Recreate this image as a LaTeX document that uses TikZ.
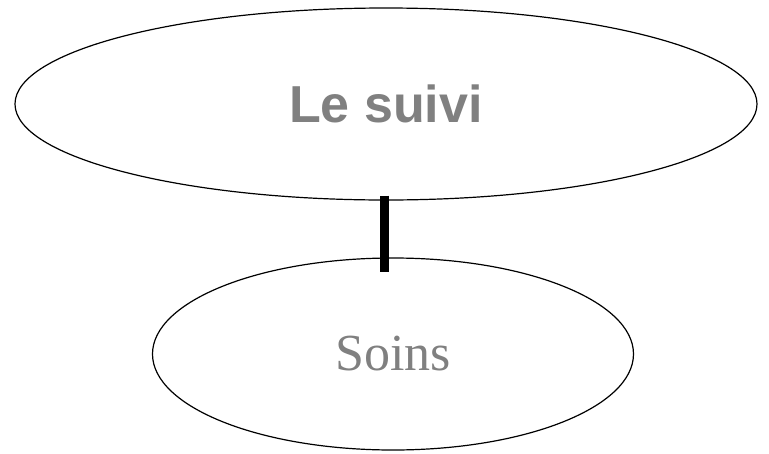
\documentclass[tikz,border=0pt]{standalone}
\usepackage{fontspec}
\setmainfont{Liberation Serif}
\newfontfamily\headfont{Liberation Sans}
\usetikzlibrary{shapes.geometric}
\definecolor{suGray}{HTML}{808080}
\tikzset{
  % Big heading ellipse
  headell/.style={ellipse,draw=black,line width=1.2pt,inner sep=0pt,
    minimum width=742pt,minimum height=192pt,
    font=\headfont\bfseries\fontsize{52}{56}\selectfont,text=suGray},
  % Item ellipse
  itemell/.style={ellipse,draw=black,line width=1.2pt,inner sep=0pt,
    minimum width=481pt,minimum height=192pt,
    font=\fontsize{52}{56}\selectfont,text=suGray},
  % Thick link
  link/.style={line width=9pt,black},
}
\begin{document}
\begin{tikzpicture}[x=1pt,y=1pt]
  \useasboundingbox (0,0) rectangle (769,-453);

  % Ellipses
  \node[headell] (suivi) at (386,-104) {Le suivi};
  \node[itemell] (soins) at (393,-354) {Soins};

  % Link between them
  \draw[link,shorten <=-5pt,shorten >=-15pt]
    ([xshift=-2pt]suivi.south) -- ([xshift=-2pt]suivi.south |- soins.north);
\end{tikzpicture}
\end{document}
